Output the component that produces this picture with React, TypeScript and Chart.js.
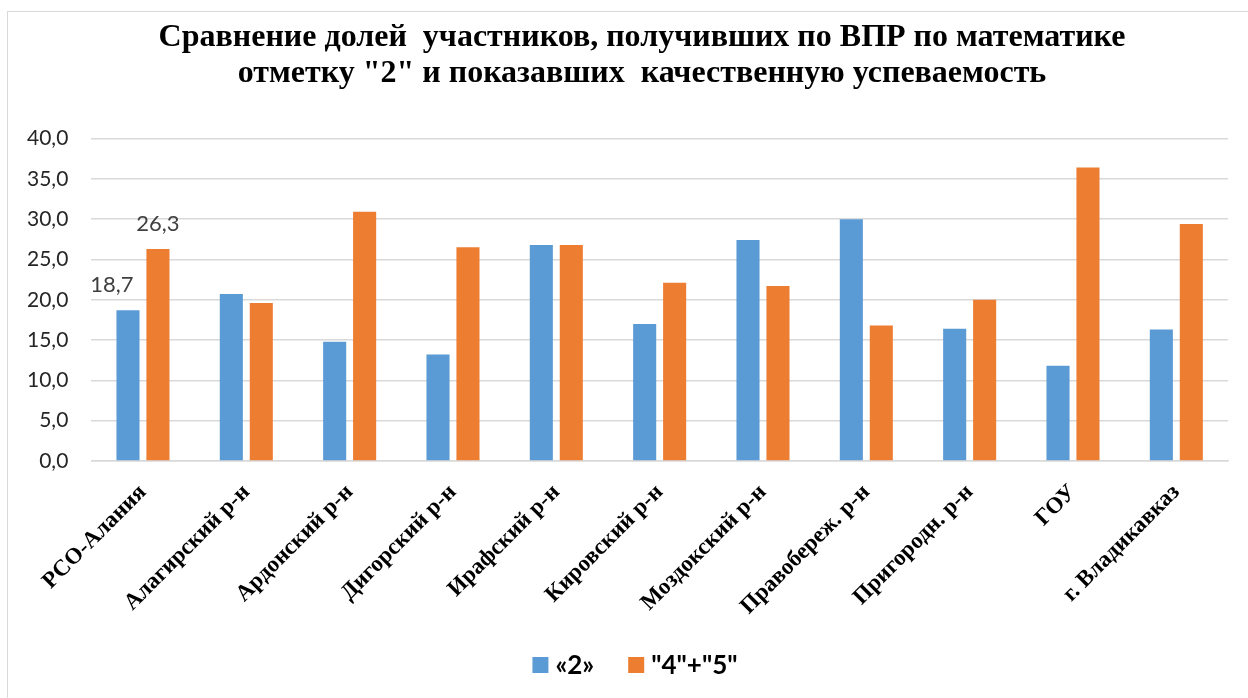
import React, { useEffect, useRef } from "react";
import { Chart, registerables } from "chart.js";

Chart.register(...registerables);

const categories = [
  "РСО-Алания",
  "Алагирский р-н",
  "Ардонский р-н",
  "Дигорский р-н",
  "Ирафский р-н",
  "Кировский р-н",
  "Моздокский р-н",
  "Правобереж. р-н",
  "Пригородн. р-н",
  "ГОУ",
  "г. Владикавказ",
];
const seriesNames = ["«2»", "\"4\"+\"5\""];
const seriesColors = ["#5b9bd5", "#ed7d31"];
const gradeTwoShare = [18.7, 20.7, 14.8, 13.2, 26.8, 17.0, 27.4, 30.0, 16.4, 11.8, 16.3];
const qualityShare = [26.3, 19.6, 30.9, 26.5, 26.8, 22.1, 21.7, 16.8, 20.0, 36.4, 29.4];
const labeledCategoryIndexes = [0];
const titleLines = [
  "Сравнение долей  участников, получивших по ВПР по математике",
  "отметку \"2\" и показавших  качественную успеваемость",
];
const yMin = 0;
const yMax = 40;
const yStep = 5;

const fmt = (v: number) => v.toFixed(1).replace(".", ",");

const titlePlugin = {
  id: "customTitle",
  afterDraw(chart: any) {
    const ctx = chart.ctx;
    ctx.save();
    ctx.font = "bold 32px 'Liberation Serif'";
    ctx.fillStyle = "#000";
    ctx.textAlign = "center";
    ctx.textBaseline = "alphabetic";
    const cx = chart.width / 2 + 18;
    titleLines.forEach((line, i) => ctx.fillText(line, cx, 46 + i * 36));
    ctx.restore();
  },
};

const legendPlugin = {
  id: "customLegend",
  afterDraw(chart: any) {
    const ctx = chart.ctx;
    ctx.save();
    ctx.font = "bold 26px Lato";
    ctx.textBaseline = "middle";
    ctx.textAlign = "left";
    const box = 16;
    const boxGap = 7;
    const itemGap = 34;
    const items = chart.data.datasets.map((ds: any) => ({
      text: ds.label,
      color: ds.backgroundColor,
      w: ctx.measureText(ds.label).width,
    }));
    const total = items.reduce((s: number, it: any) => s + box + boxGap + it.w, 0) + itemGap * (items.length - 1);
    let x = chart.width / 2 + 11 - total / 2;
    const cy = 665;
    items.forEach((it: any) => {
      ctx.fillStyle = it.color;
      ctx.fillRect(x, cy - box / 2, box, box);
      x += box + boxGap;
      ctx.fillStyle = "#000";
      ctx.fillText(it.text, x, cy + 1);
      x += it.w + itemGap;
    });
    ctx.restore();
  },
};

const valueLabelPlugin = {
  id: "valueLabels",
  afterDatasetsDraw(chart: any) {
    const ctx = chart.ctx;
    ctx.save();
    ctx.font = "22px Lato";
    ctx.fillStyle = "#404040";
    ctx.textAlign = "center";
    ctx.textBaseline = "middle";
    chart.data.datasets.forEach((ds: any, di: number) => {
      const meta = chart.getDatasetMeta(di);
      labeledCategoryIndexes.forEach((idx) => {
        const el = meta.data[idx];
        if (!el) return;
        const dx = di === 0 ? -16 : 0;
        ctx.fillText(fmt(ds.data[idx]), el.x + dx, el.y - 25);
      });
    });
    ctx.restore();
  },
};

export default function App() {
  const canvasRef = useRef<HTMLCanvasElement | null>(null);

  useEffect(() => {
    if (!canvasRef.current) return;
    const chart = new Chart(canvasRef.current, {
      type: "bar",
      data: {
        labels: categories,
        datasets: [
          {
            label: seriesNames[0],
            data: gradeTwoShare,
            backgroundColor: seriesColors[0],
            categoryPercentage: 0.58,
            barPercentage: 0.77,
          },
          {
            label: seriesNames[1],
            data: qualityShare,
            backgroundColor: seriesColors[1],
            categoryPercentage: 0.58,
            barPercentage: 0.77,
          },
        ],
      },
      options: {
        responsive: false,
        animation: false,
        devicePixelRatio: 1,
        layout: { padding: { top: 138.5, left: 4, right: 20, bottom: 57 } },
        plugins: {
          title: { display: false },
          legend: { display: false },
          tooltip: { enabled: false },
        },
        scales: {
          x: {
            grid: { display: false, drawTicks: false },
            border: { display: true, color: "#d9d9d9", width: 1.5 },
            ticks: {
              color: "#000",
              font: { family: "'Liberation Serif'", size: 23, weight: "bold" },
              minRotation: 45,
              maxRotation: 45,
              autoSkip: false,
              padding: 18,
            },
            afterFit: (scale: any) => {
              scale.paddingLeft = 0;
              scale.paddingRight = 0;
              scale.height = 180;
            },
          },
          y: {
            min: yMin,
            max: yMax,
            grid: { color: "#d9d9d9", lineWidth: 1.5, drawTicks: false },
            border: { display: false },
            ticks: {
              stepSize: yStep,
              color: "#262626",
              font: { family: "Lato", size: 21 },
              padding: 23,
              callback: (v: any) => fmt(Number(v)),
            },
          },
        },
      },
      plugins: [valueLabelPlugin, titlePlugin, legendPlugin],
    });
    return () => chart.destroy();
  }, []);

  return (
    <div style={{ position: "absolute", left: 0, top: 0, width: 1248, height: 698, background: "#fff", overflow: "hidden" }}>
      <div
        style={{
          position: "absolute",
          left: 7,
          top: 11,
          width: 1260,
          height: 700,
          borderLeft: "1.5px solid #d9d9d9",
          borderTop: "1.5px solid #d9d9d9",
          boxSizing: "border-box",
        }}
      />
      <canvas ref={canvasRef} width={1248} height={698} style={{ position: "absolute", left: 0, top: 0, width: 1248, height: 698 }} />
    </div>
  );
}
